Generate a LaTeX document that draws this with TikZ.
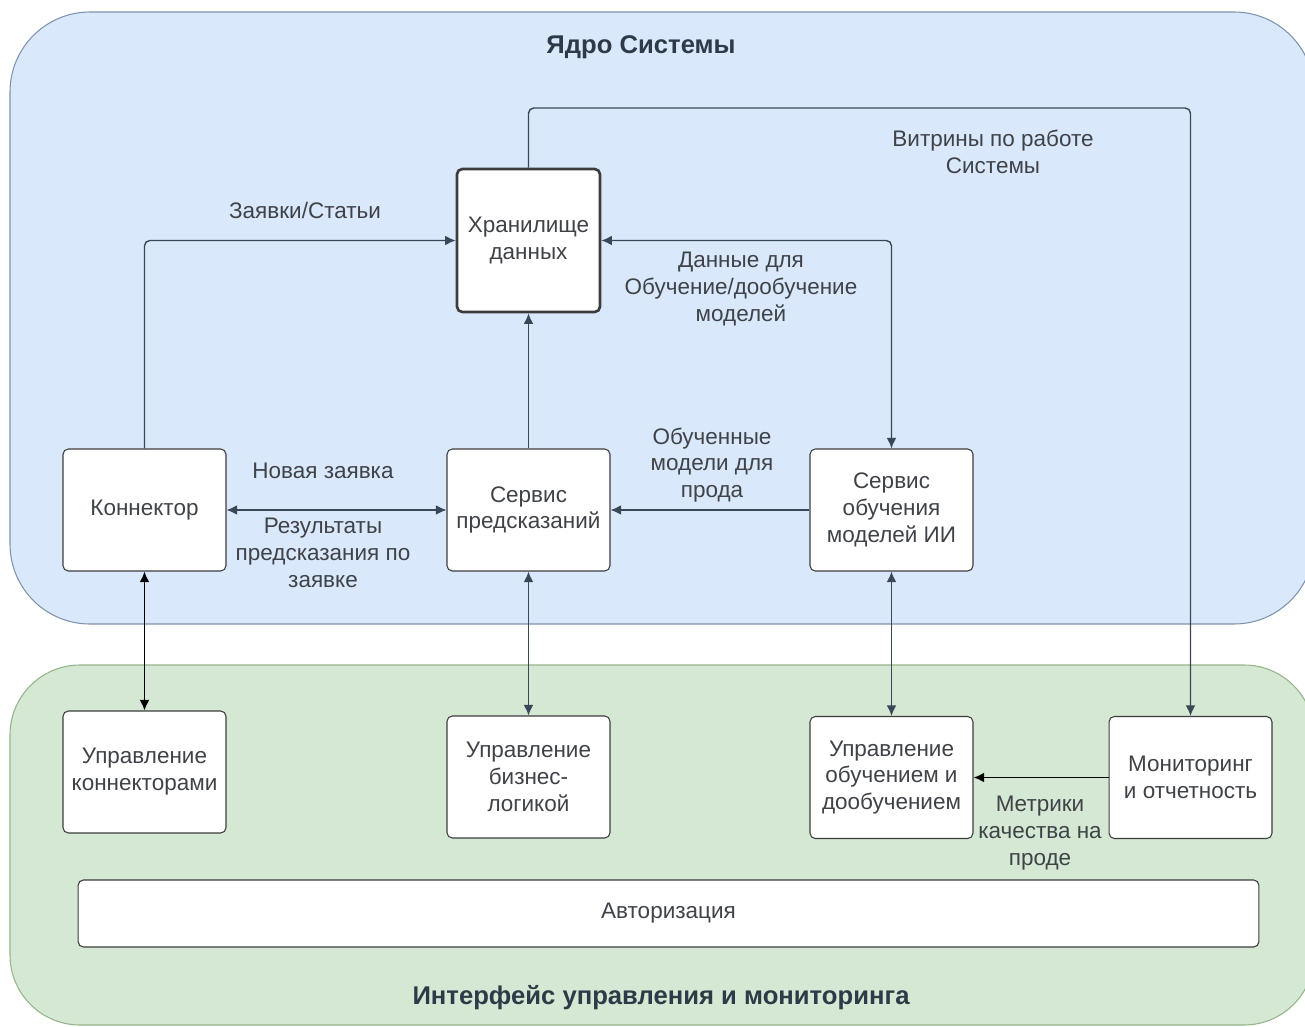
\documentclass[tikz,border=0pt]{standalone}
\usepackage{fontspec}
\setmainfont{Liberation Sans}
\usetikzlibrary{arrows.meta}
\definecolor{bluefill}{HTML}{DAE8FC}
\definecolor{bluedraw}{HTML}{7E93AD}
\definecolor{greenfill}{HTML}{D5E8D4}
\definecolor{greendraw}{HTML}{95B48A}
\definecolor{txt}{HTML}{3F4348}
\definecolor{titletxt}{HTML}{2E3A48}
\definecolor{lineclr}{HTML}{3A4756}
\definecolor{boxline}{HTML}{3C3C3C}
\newcommand{\lblfont}{\fontsize{12.8}{15.3}\selectfont}
\newcommand{\ttlfont}{\fontsize{14.6}{17}\selectfont\bfseries}
\tikzset{
  tip/.tip={Latex[length=6pt,width=5.5pt]},
  blk/.style={draw=boxline, fill=white, rounded corners=3pt, line width=0.6pt,
    minimum width=3.26cm, minimum height=2.44cm, align=center, text=txt, font=\lblfont, inner sep=2pt},
  lab/.style={align=center, text=txt, font=\lblfont, inner sep=0pt},
  ttl/.style={text=titletxt, font=\ttlfont, inner sep=0pt},
  conn/.style={draw=lineclr, line width=0.8pt, rounded corners=3pt, -tip},
  bconn/.style={draw=lineclr, line width=0.8pt, tip-tip},
  kconn/.style={draw=black, line width=0.8pt, tip-tip}
}
\begin{document}
\begin{tikzpicture}[x=0.02cm,y=-0.02cm]
\useasboundingbox (0,0) rectangle (1305,1027);
\fill[white] (0,0) rectangle (1305,1027);
% containers
\begin{scope}
\clip (0,0) rectangle (1305,1027);
\draw[fill=bluefill, draw=bluedraw, line width=0.6pt, rounded corners=1.6cm] (10,12) rectangle (1314,624);
\draw[fill=greenfill, draw=greendraw, line width=0.6pt, rounded corners=1.4cm] (10,665) rectangle (1314,1025);
\end{scope}
\node[ttl] (t1) at (641,47) {Ядро Системы};
\node[ttl] (t2) at (661,998) {Интерфейс управления и мониторинга};
% nodes
\node[blk, minimum width=2.86cm, minimum height=2.86cm, line width=1.5pt] (stor) at (528.5,240.5) {Хранилище\\данных};
\node[blk] (con) at (144.5,510) {Коннектор};
\node[blk] (pred) at (528.5,510) {Сервис\\предсказаний};
\node[blk] (train) at (891.5,510) {Сервис\\обучения\\моделей ИИ};
\node[blk] (ucon) at (144.5,772) {Управление\\коннекторами};
\node[blk] (ubiz) at (528.5,777) {Управление\\бизнес-\\логикой};
\node[blk] (utrain) at (891.5,777.5) {Управление\\обучением и\\дообучением};
\node[blk] (mon) at (1190.5,777.5) {Мониторинг\\и отчетность};
\node[blk, minimum width=23.62cm, minimum height=1.34cm] (auth) at (668.5,913.5) {Авторизация};
% connectors
\coordinate (vit) at (1190.5,108);
\draw[conn] (con.north) |- (stor.west);
\draw[conn] (pred.north) -- (stor.south);
\draw[conn, tip-tip] (stor.east) -| (train.north);
\draw[conn] (stor.north) |- (vit) -- (mon.north);
\draw[conn] (train.west) -- (pred.east);
\draw[bconn] (con.east) -- (pred.west);
\draw[kconn] (con.south) -- (ucon.north);
\draw[bconn] (pred.south) -- (ubiz.north);
\draw[bconn] (train.south) -- (utrain.north);
\draw[conn, draw=black] (mon.west) -- (utrain.east);
% labels
\node[lab] (l1) at (305,210) {Заявки/Статьи};
\node[lab] (l2) at (741,289) {Данные для\\Обучение/дообучение\\моделей};
\node[lab] (l3) at (993,152) {Витрины по работе\\Системы};
\node[lab] (l4) at (712,465) {Обученные\\модели для\\прода};
\node[lab] (l5) at (323,471) {Новая заявка};
\node[lab] (l6) at (323,553) {Результаты\\предсказания по\\заявке};
\node[lab] (l7) at (1040,833) {Метрики\\качества на\\проде};
\end{tikzpicture}
\end{document}
